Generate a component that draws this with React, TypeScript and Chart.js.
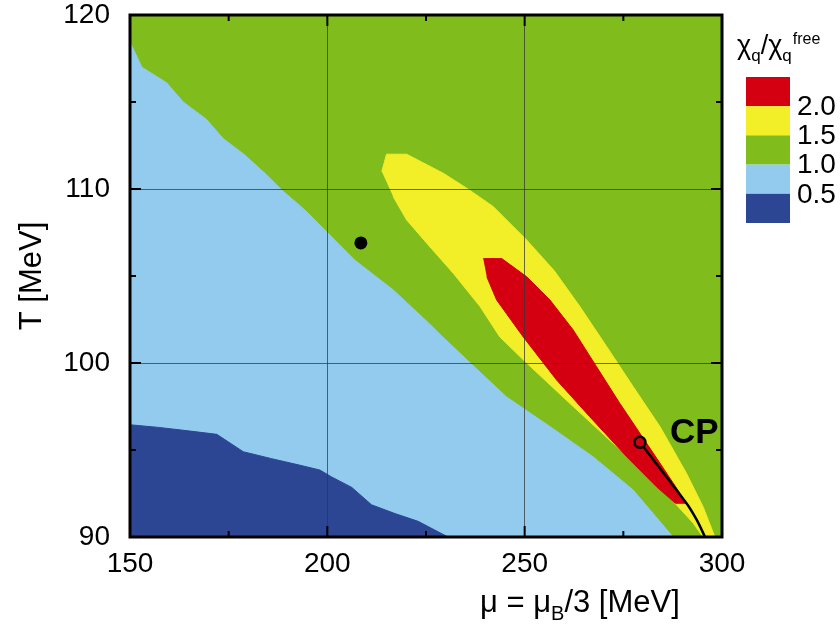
import React, { useEffect, useRef } from 'react';
import { Chart, registerables } from 'chart.js';

Chart.register(...registerables);

// Axis ticks
const xMajorTicks = [150, 200, 250, 300];
const yMajorTicks = [90, 100, 110, 120];
const xMinorTicks = [175, 225, 275];
const yMinorTicks = [95, 105, 115];

// Legend (colour bar) levels
const legendLabels = ['2.0', '1.5', '1.0', '0.5'];
const legendColors = ['#D40012', '#F2EE28', '#80BC1C', '#92CBEE', '#2C4694'];

// Region outlines, [mu, T]
const greenRegion: [number, number][] = [
  [150, 90], [150, 120], [300, 120], [300, 90],
];

const lightBlueRegion: [number, number][] = [
  [150, 90], [150, 118.45], [153.0, 117.0], [159.3, 116.1], [163.5, 115.0],
  [169.4, 114.0], [173.6, 112.9], [179.1, 111.95], [184.2, 110.9],
  [188.4, 109.95], [194.3, 108.8], [200.2, 107.45], [207.0, 105.9],
  [216.7, 104.2], [225.2, 102.4], [229.0, 101.55], [235.3, 100.2],
  [245.4, 98.05], [256.4, 96.35], [267.4, 94.6], [277.5, 92.7], [287.6, 90.0],
];

const darkBlueRegion: [number, number][] = [
  [150, 90], [150, 96.45], [157.2, 96.3], [164.8, 96.1], [172.0, 95.9],
  [178.7, 94.9], [185.9, 94.5], [192.6, 94.15], [198.1, 93.85],
  [201.1, 93.45], [206.2, 92.85], [211.2, 91.85], [217.1, 91.35],
  [223.0, 90.9], [230.6, 90.0],
];

const yellowRegion: [number, number][] = [
  [213.8, 111.0], [215.0, 112.0], [220.1, 112.0], [229.4, 110.9],
  [235.3, 110.05], [242.0, 109.0], [250.5, 107.07], [257.5, 105.3],
  [264.0, 103.24], [270.8, 100.94], [277.5, 98.64], [284.3, 96.34],
  [291.0, 93.66], [295.2, 91.74], [298.2, 90.0], [295.2, 90.0],
  [292.7, 90.8], [283.4, 93.1], [273.3, 95.2], [262.3, 97.5],
  [250.5, 100.0], [243.7, 101.5], [238.7, 103.24], [231.9, 105.16],
  [225.2, 106.88], [220.1, 108.22], [216.7, 109.56],
];

const redRegion: [number, number][] = [
  [239.5, 106.0], [244.2, 106.0], [250.5, 104.96], [256.4, 103.62],
  [262.3, 101.9], [268.2, 99.79], [274.1, 97.68], [279.2, 95.96],
  [286.0, 93.66], [291.0, 91.94], [288.2, 91.94], [283.4, 92.89],
  [275.8, 94.62], [266.5, 96.91], [258.1, 99.02], [249.6, 101.51],
  [242.9, 103.62], [240.4, 104.96],
];

// Critical line and points
const criticalLine: [number, number][] = [
  [279.2, 95.44], [291.0, 91.94], [293.6, 90.98], [295.7, 90.0],
];
const criticalPoint: [number, number][] = [[279.2, 95.44]];
const blackDot: [number, number][] = [[208.5, 106.9]];

const toXY = (pts: [number, number][]) => pts.map(([x, y]) => ({ x, y }));

const TICK_FONT = "'Liberation Sans', Arial, Helvetica, sans-serif";
const TEXT_FONT = "'Liberation Sans', Arial, Helvetica, sans-serif";

const region = (data: [number, number][], color: string, order: number) => ({
  data: toXY(data),
  backgroundColor: color,
  borderColor: color,
  borderWidth: 1,
  pointRadius: 0,
  fill: 'shape',
  tension: 0,
  order,
});

const overlayPlugin = {
  id: 'overlay',
  afterDraw(chart: any) {
    const { ctx, chartArea: a, scales } = chart;
    const xs = scales.x;
    const ys = scales.y;
    ctx.save();

    // inward ticks on all four sides
    ctx.strokeStyle = '#000';
    ctx.lineWidth = 2;
    const xTick = (v: number, len: number) => {
      const p = xs.getPixelForValue(v);
      ctx.beginPath();
      ctx.moveTo(p, a.bottom); ctx.lineTo(p, a.bottom - len);
      ctx.moveTo(p, a.top); ctx.lineTo(p, a.top + len);
      ctx.stroke();
    };
    const yTick = (v: number, len: number) => {
      const p = ys.getPixelForValue(v);
      ctx.beginPath();
      ctx.moveTo(a.left, p); ctx.lineTo(a.left + len, p);
      ctx.moveTo(a.right, p); ctx.lineTo(a.right - len, p);
      ctx.stroke();
    };
    xMajorTicks.forEach((v) => xTick(v, 11));
    xMinorTicks.forEach((v) => xTick(v, 6));
    yMajorTicks.forEach((v) => yTick(v, 11));
    yMinorTicks.forEach((v) => yTick(v, 6));

    // frame
    ctx.lineWidth = 3;
    ctx.strokeRect(a.left, a.top, a.right - a.left, a.bottom - a.top);

    ctx.fillStyle = '#000';
    // y title
    ctx.save();
    ctx.translate(32, (a.top + a.bottom) / 2);
    ctx.rotate(-Math.PI / 2);
    ctx.font = `31px ${TEXT_FONT}`;
    ctx.textAlign = 'center';
    ctx.textBaseline = 'middle';
    ctx.fillText('T [MeV]', 0, 0);
    ctx.restore();

    // x title: μ = μ_B/3 [MeV]
    ctx.textAlign = 'left';
    ctx.textBaseline = 'alphabetic';
    let tx = 480;
    const base = 612;
    ctx.font = `31px ${TEXT_FONT}`;
    ctx.fillText('μ = μ', tx, base);
    tx += ctx.measureText('μ = μ').width;
    ctx.font = `20px ${TEXT_FONT}`;
    ctx.fillText('B', tx, base + 8);
    tx += ctx.measureText('B').width;
    ctx.font = `31px ${TEXT_FONT}`;
    ctx.fillText('/3 [MeV]', tx, base);

    // CP label
    const cpx = xs.getPixelForValue(criticalPoint[0][0]);
    const cpy = ys.getPixelForValue(criticalPoint[0][1]);
    ctx.font = `bold 35px ${TEXT_FONT}`;
    ctx.fillText('CP', cpx + 30, cpy + 1);

    // legend title χq/χq^free
    let lx = 737;
    const lb = 54;
    ctx.font = `27px ${TEXT_FONT}`;
    ctx.fillText('χ', lx, lb);
    lx += ctx.measureText('χ').width;
    ctx.font = `17px ${TEXT_FONT}`;
    ctx.fillText('q', lx, lb + 7);
    lx += ctx.measureText('q').width;
    ctx.font = `27px ${TEXT_FONT}`;
    ctx.fillText('/', lx, lb);
    lx += ctx.measureText('/').width;
    ctx.fillText('χ', lx, lb);
    lx += ctx.measureText('χ').width;
    ctx.font = `17px ${TEXT_FONT}`;
    ctx.fillText('q', lx, lb + 7);
    lx += ctx.measureText('q').width + 1;
    ctx.font = `16px ${TEXT_FONT}`;
    ctx.fillText('free', lx, lb - 10);

    // legend colour boxes
    const bx = 746, bw = 44, by = 77, bh = 29.2;
    legendColors.forEach((c, i) => {
      ctx.fillStyle = c;
      ctx.fillRect(bx, by + i * bh, bw, bh);
    });
    ctx.fillStyle = '#000';
    ctx.font = `28px ${TICK_FONT}`;
    ctx.textBaseline = 'middle';
    legendLabels.forEach((t, i) => {
      ctx.fillText(t, 797, by + (i + 1) * bh + 1);
    });

    ctx.restore();
  },
};

export default function App() {
  const canvasRef = useRef<HTMLCanvasElement | null>(null);

  useEffect(() => {
    if (!canvasRef.current) return;
    const chart = new Chart(canvasRef.current, {
      type: 'line',
      data: {
        datasets: [
          region(greenRegion, legendColors[2], 10),
          region(lightBlueRegion, legendColors[3], 9),
          region(darkBlueRegion, legendColors[4], 8),
          region(yellowRegion, legendColors[1], 7),
          region(redRegion, legendColors[0], 6),
          {
            data: toXY(criticalLine),
            borderColor: '#000',
            borderWidth: 2.5,
            pointRadius: 0,
            fill: false,
            tension: 0.3,
            order: 5,
          },
          {
            data: toXY(criticalPoint),
            showLine: false,
            pointRadius: 5.5,
            pointBorderWidth: 2.5,
            pointBorderColor: '#000',
            pointBackgroundColor: legendColors[0],
            order: 4,
          },
          {
            data: toXY(blackDot),
            showLine: false,
            pointRadius: 6.5,
            pointBorderWidth: 0,
            pointBackgroundColor: '#000',
            pointBorderColor: '#000',
            order: 3,
          },
        ] as any,
      },
      options: {
        animation: false,
        responsive: false,
        devicePixelRatio: 1,
        layout: { padding: { left: 0, right: 118, top: 15, bottom: 0 } },
        plugins: { legend: { display: false }, tooltip: { enabled: false } },
        events: [],
        scales: {
          x: {
            type: 'linear',
            min: 150,
            max: 300,
            afterFit: (s: any) => { s.height = 90; s.paddingLeft = 0; s.paddingRight = 0; },
            afterBuildTicks: (s: any) => { s.ticks = xMajorTicks.map((v) => ({ value: v })); },
            ticks: {
              font: { size: 28, family: TICK_FONT },
              color: '#000',
              padding: 10,
              maxRotation: 0,
              autoSkip: false,
            },
            grid: { color: 'rgba(55,55,55,0.75)', lineWidth: 1, drawTicks: false, z: 1 },
            border: { display: false },
          },
          y: {
            type: 'linear',
            min: 90,
            max: 120,
            afterFit: (s: any) => { s.width = 130; s.paddingTop = 0; s.paddingBottom = 0; },
            afterBuildTicks: (s: any) => { s.ticks = yMajorTicks.map((v) => ({ value: v })); },
            ticks: {
              font: { size: 28, family: TICK_FONT },
              color: '#000',
              padding: 20,
              autoSkip: false,
            },
            grid: { color: 'rgba(55,55,55,0.75)', lineWidth: 1, drawTicks: false, z: 1 },
            border: { display: false },
          },
        },
      } as any,
      plugins: [overlayPlugin],
    });
    return () => chart.destroy();
  }, []);

  return (
    <div style={{ position: 'fixed', left: 0, top: 0, width: 840, height: 627, background: '#fff' }}>
      <canvas ref={canvasRef} width={840} height={627} style={{ width: 840, height: 627, display: 'block' }} />
    </div>
  );
}
